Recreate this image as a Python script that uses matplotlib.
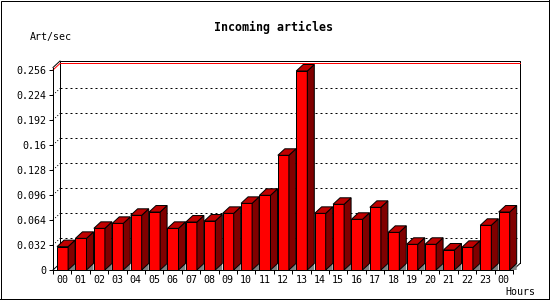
import numpy as np
import matplotlib
matplotlib.use("Agg")
import matplotlib.pyplot as plt
from matplotlib.patches import Polygon, Rectangle
from matplotlib.lines import Line2D

# data
hours = ['00', '01', '02', '03', '04', '05', '06', '07', '08', '09', '10', '11',
         '12', '13', '14', '15', '16', '17', '18', '19', '20', '21', '22', '23', '00']
art_sec = [0.0299, 0.0405, 0.0533, 0.0597, 0.0700, 0.0742, 0.0533, 0.0614, 0.0627,
           0.0725, 0.0853, 0.0956, 0.1468, 0.2547, 0.0725, 0.0841, 0.0649, 0.0802,
           0.0482, 0.0329, 0.0329, 0.0256, 0.0290, 0.0572, 0.0742]
yticks = [0, 0.032, 0.064, 0.096, 0.128, 0.16, 0.192, 0.224, 0.256]
ytick_labels = ['0', '0.032', '0.064', '0.096', '0.128', '0.16', '0.192', '0.224', '0.256']

plt.rcParams['font.family'] = 'DejaVu Sans Mono'
px = 0.72  # one pixel in points at dpi 100

fig = plt.figure(figsize=(5.5, 3.0), dpi=100)
ax = fig.add_axes([53/550, 30/300, 467/550, 209/300])
n = len(art_sec)
xmax = 25.38
ytop = 0.2675
ax.set_xlim(0, xmax)
ax.set_ylim(0, ytop)
dx = xmax - n          # depth offset in x (bar units)
dy = 6.5 * 0.00128     # depth offset in y (data units)

for s in ['top', 'right']:
    ax.spines[s].set_visible(False)
ax.spines['left'].set_bounds(0, ytop - dy)
ax.spines['bottom'].set_bounds(0, n)
ax.spines['left'].set_linewidth(px)
ax.spines['bottom'].set_linewidth(px)

# back wall + grid
ax.plot([dx, dx, xmax, xmax], [dy, ytop, ytop, dy], color='black', lw=px, clip_on=False)
ax.plot([0, dx], [ytop - dy, ytop], color='black', lw=px, clip_on=False)
ax.plot([0, dx], [0, dy], color='black', lw=px, clip_on=False)
ax.plot([n, xmax], [0, dy], color='black', lw=px, clip_on=False)
for v in yticks[1:-1]:
    ax.plot([dx, xmax], [v + dy, v + dy], color='black', lw=px, ls=(0, (2, 3)), clip_on=False)
    ax.plot([0, dx], [v, v + dy], color='black', lw=px, ls=(0, (1, 2)), clip_on=False)
ax.plot([dx, xmax], [0.256 + dy, 0.256 + dy], color='red', lw=px, clip_on=False)
ax.plot([0, dx], [0.256, 0.256 + dy], color='red', lw=px, clip_on=False)

# 3d bars
off = 0.22
w = 0.6
xs = np.arange(n) + off
ax.bar(xs, art_sec, width=w, align='edge', color='#ff0000', edgecolor='black',
       linewidth=px, zorder=3)
for x0, h in zip(xs, art_sec):
    x1 = x0 + w
    ax.add_patch(Polygon([(x1, 0), (x1 + dx, dy), (x1 + dx, 0)], closed=True,
                         facecolor='#808080', edgecolor='none', zorder=2, clip_on=False))
    ax.add_patch(Polygon([(x1, 0), (x1 + dx, dy), (x1 + dx, h + dy), (x1, h)], closed=True,
                         facecolor='#800000', edgecolor='black', lw=px, zorder=3, clip_on=False))
    ax.add_patch(Polygon([(x0, h), (x0 + dx, h + dy), (x1 + dx, h + dy), (x1, h)], closed=True,
                         facecolor='#c00000', edgecolor='black', lw=px, zorder=3, clip_on=False))

ax.set_yticks(yticks)
ax.set_yticklabels(ytick_labels)
ax.tick_params(axis='y', direction='out', length=4*px, width=px, pad=3*px, labelsize=7.2)
ax.set_xticks(np.arange(n + 1))
ax.set_xticklabels([])
ax.set_xticks(np.arange(n) + 0.5, minor=True)
ax.set_xticklabels(hours, minor=True)
ax.tick_params(axis='x', which='major', direction='out', length=4*px, width=px)
ax.tick_params(axis='x', which='minor', length=0, pad=5*px, labelsize=7.2)

fig.text(274/550, 1 - 27/300, 'Incoming articles', ha='center', va='center',
         fontsize=8.4, fontweight='bold')
fig.text(30/550, 1 - 37/300, 'Art/sec', ha='left', va='center', fontsize=7.2)
fig.text(505/550, 1 - 292/300, 'Hours', ha='left', va='center', fontsize=7.2)

# image frame: thin left/top, thicker right/bottom
t = fig.transFigure
fig.add_artist(Rectangle((0.5/550, 0.5/300), 549/550, 299/300, transform=t,
                         fill=False, edgecolor='black', lw=px))
fig.add_artist(Line2D([548.5/550, 548.5/550], [0, 1], transform=t, color='black', lw=px))
fig.add_artist(Line2D([0, 1], [1.5/300, 1.5/300], transform=t, color='black', lw=px))
fig.savefig('out.png', dpi=100)
